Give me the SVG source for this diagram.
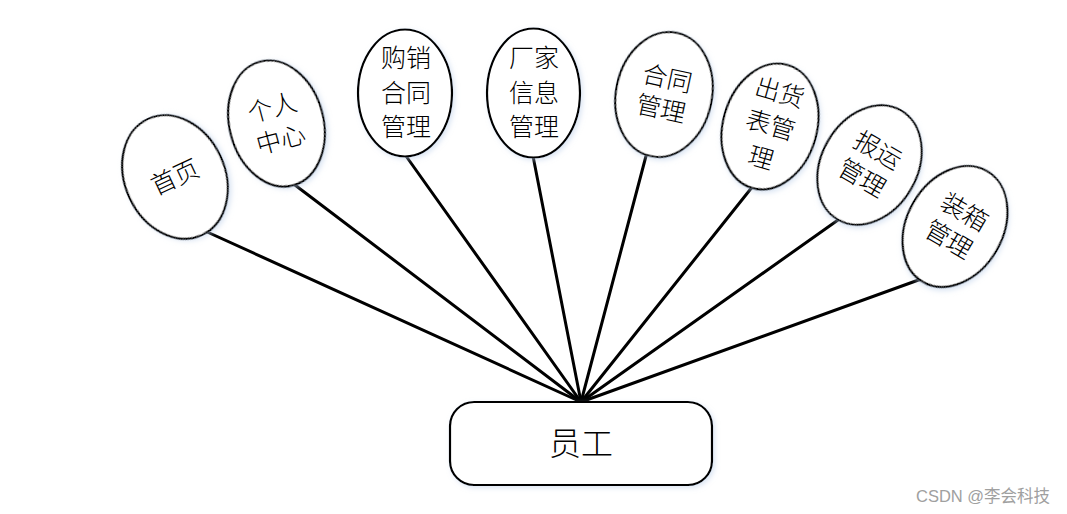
<svg xmlns="http://www.w3.org/2000/svg" width="1067" height="514" viewBox="0 0 1067 514">
  <defs>
    <filter id="sh" x="-20%" y="-20%" width="140%" height="140%">
      <feDropShadow dx="2" dy="2" stdDeviation="2.5" flood-color="#b9cde8" flood-opacity="0.5"/>
    </filter>
  </defs>
  <style>
    .node { fill: #ffffff; stroke: #000000; stroke-width: 2.2; filter: url(#sh); }
    .lbl { font-family: "Noto Sans CJK SC", "Noto Sans", sans-serif; font-size: 25px; font-weight: 300; fill: #000000; text-anchor: middle; }
    .edge { stroke: #000000; stroke-width: 3; fill: none; stroke-linecap: round; }
    .wm { font-family: "Liberation Sans", "Noto Sans CJK SC", sans-serif; font-size: 16.5px; fill: #a0a0a0; }
  </style>
  <rect width="1067" height="514" fill="#ffffff"/>
  <g id="connectors">
    <line class="edge" x1="581" y1="402" x2="205" y2="231"/>
    <line class="edge" x1="581" y1="402" x2="291" y2="182"/>
    <line class="edge" x1="581" y1="402" x2="406" y2="156"/>
    <line class="edge" x1="581" y1="402" x2="533" y2="156"/>
    <line class="edge" x1="581" y1="402" x2="646" y2="156"/>
    <line class="edge" x1="581" y1="402" x2="753" y2="186"/>
    <line class="edge" x1="581" y1="402" x2="838" y2="220"/>
    <line class="edge" x1="581" y1="402" x2="924" y2="278"/>
  </g>
  <g id="n1" transform="rotate(-25 175 177)">
    <ellipse class="node" cx="175" cy="177" rx="50" ry="64"/>
    <text class="lbl" x="175" y="186">首页</text>
  </g>
  <g id="n2" transform="rotate(-15 276.5 123.5)">
    <ellipse class="node" cx="276.5" cy="123.5" rx="47" ry="64"/>
    <text class="lbl" x="276.5" y="116">个人</text>
    <text class="lbl" x="276.5" y="149">中心</text>
  </g>
  <g id="n3">
    <ellipse class="node" cx="405" cy="93" rx="47" ry="63.5"/>
    <text class="lbl" x="406" y="67">购销</text>
    <text class="lbl" x="406" y="101.5">合同</text>
    <text class="lbl" x="406" y="136">管理</text>
  </g>
  <g id="n4">
    <ellipse class="node" cx="533.5" cy="93" rx="46.5" ry="64.5"/>
    <text class="lbl" x="534" y="67">厂家</text>
    <text class="lbl" x="534" y="101.5">信息</text>
    <text class="lbl" x="534" y="136">管理</text>
  </g>
  <g id="n5" transform="rotate(12 664 94.5)">
    <ellipse class="node" cx="664" cy="94.5" rx="48" ry="63"/>
    <text class="lbl" x="664" y="87">合同</text>
    <text class="lbl" x="664" y="118">管理</text>
  </g>
  <g id="n6" transform="rotate(16 770 126.5)">
    <ellipse class="node" cx="770" cy="126.5" rx="47" ry="64"/>
    <text class="lbl" x="770" y="100">出货</text>
    <text class="lbl" x="770" y="134">表管</text>
    <text class="lbl" x="770" y="168">理</text>
  </g>
  <g id="n7" transform="rotate(30 869.5 165)">
    <ellipse class="node" cx="869.5" cy="165" rx="48" ry="63"/>
    <text class="lbl" x="869.5" y="157">报运</text>
    <text class="lbl" x="869.5" y="189">管理</text>
  </g>
  <g id="n8" transform="rotate(30 955 226.5)">
    <ellipse class="node" cx="955" cy="226.5" rx="48" ry="64"/>
    <text class="lbl" x="956" y="218">装箱</text>
    <text class="lbl" x="956" y="250">管理</text>
  </g>
  <g id="n0">
    <rect class="node" x="450" y="402" width="262" height="83" rx="24" ry="24"/>
    <text class="lbl" x="581" y="455" style="font-size:32px">员工</text>
  </g>
  <text class="wm" x="916" y="502">CSDN @李会科技</text>
</svg>
